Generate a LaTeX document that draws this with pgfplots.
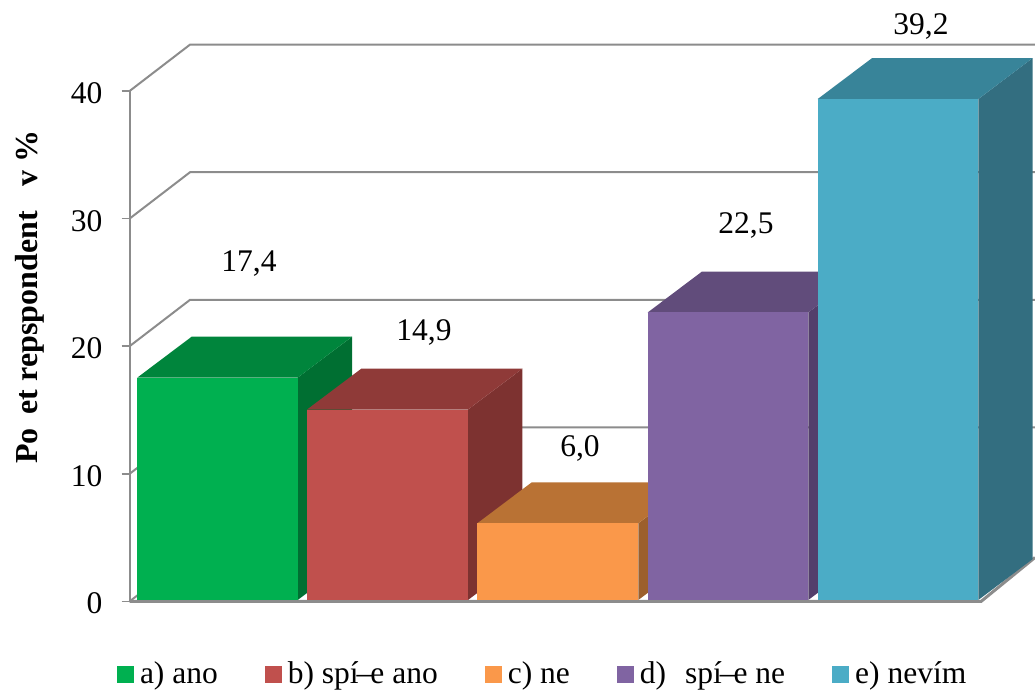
\documentclass[border=0pt]{standalone}
\usepackage{pgfplots}
\pgfplotsset{compat=1.18}
\usepackage{fontspec}
\setmainfont{Liberation Serif}

\definecolor{wallgray}{HTML}{8C8C8C}
\definecolor{aFront}{HTML}{00B050}\definecolor{aTop}{HTML}{00853C}\definecolor{aSide}{HTML}{006F32}
\definecolor{bFront}{HTML}{C0504D}\definecolor{bTop}{HTML}{8F3A38}\definecolor{bSide}{HTML}{7D3230}
\definecolor{cFront}{HTML}{FA984A}\definecolor{cTop}{HTML}{B97234}\definecolor{cSide}{HTML}{9C5F2C}
\definecolor{dFront}{HTML}{8064A2}\definecolor{dTop}{HTML}{614C7B}\definecolor{dSide}{HTML}{533F6B}
\definecolor{eFront}{HTML}{4BACC6}\definecolor{eTop}{HTML}{388499}\definecolor{eSide}{HTML}{336E80}

\newcommand{\chartfont}{\fontsize{31.5}{36}\selectfont}
\newcommand{\tightdash}{\kern-2pt–\kern-2pt}
% One box face; depth of a bar is 54.3 along x and 3.2 along the value axis.
\pgfplotsset{face/.style={fill=#1,draw=none,forget plot}}
% left edge, right edge, value, colour stem
\newcommand{\boxbar}[4]{%
  \pgfmathsetmacro{\xb}{#2+54.3}%
  \pgfmathsetmacro{\xc}{#1+54.3}%
  \pgfmathsetmacro{\vb}{#3+3.2}%
  \edef\temp{\noexpand\addplot[face=#4Side] coordinates {(#2,0) (\xb,3.2) (\xb,\vb) (#2,#3)} --cycle;
    \noexpand\addplot[face=#4Top] coordinates {(#1,#3) (#2,#3) (\xb,\vb) (\xc,\vb)} --cycle;
    \noexpand\addplot[face=#4Front] coordinates {(#1,0) (#2,0) (#2,#3) (#1,#3)} --cycle;}%
  \temp}
% Square legend key, with the gap before its text
\newcommand{\legendkey}[1]{\addlegendimage{legend image code/.code={%
  \fill[#1,draw=none] (0pt,1pt) rectangle (17pt,18pt);\path[draw=none] (17pt,0) -- (23pt,0);}}}

\begin{document}
\begin{tikzpicture}[x=1pt,y=1pt]
\useasboundingbox (0,0) rectangle (1035,695);

% Walls, gridlines and the value axis
\begin{axis}[
  at={(129.5pt,0pt)},anchor=south west,
  scale only axis,width=905.5pt,height=695pt,
  xmin=129.5,xmax=1035,ymin=-7.328,ymax=47.139,
  clip=false,
  axis x line=none,axis y line*=left,
  axis line style={draw=none},
  ytick={0,10,20,30,40},
  tick align=outside,
  major tick length=8pt,
  tick style={draw=wallgray,line width=1.6pt},
  /pgf/number format/assume math mode=true,
  yticklabel style={font=\chartfont,text=black,inner sep=0pt,xshift=-19pt,yshift=-2pt},
]
\addplot[wallgray,line width=2pt,forget plot] coordinates {(129.5,0) (129.5,40)};
\addplot[wallgray,line width=2pt,forget plot] coordinates {(129.5,10) (190,13.64) (1035,13.64)};
\addplot[wallgray,line width=2pt,forget plot] coordinates {(129.5,20) (190,23.64) (1035,23.64)};
\addplot[wallgray,line width=2pt,forget plot] coordinates {(129.5,30) (190,33.64) (1035,33.64)};
\addplot[wallgray,line width=2pt,forget plot] coordinates {(129.5,40) (190,43.64) (1035,43.64)};
\addplot[wallgray,line width=2pt,forget plot] coordinates {(129.5,0) (190,3.64)};
\addplot[wallgray,line width=3pt,forget plot] coordinates {(129.5,0) (981,0) (1035,3.45)};
\end{axis}

% Bars, value labels and legend
\begin{axis}[
  at={(0pt,0pt)},anchor=south west,
  scale only axis,width=1035pt,height=695pt,
  xmin=0,xmax=1035,ymin=-7.433,ymax=46.948,
  hide axis,
  legend columns=5,
  legend style={draw=none,fill=none,font=\chartfont,inner sep=0pt,outer sep=0pt,
    at={(axis cs:117,-5.75)},anchor=west,
    /tikz/every even column/.append style={column sep=47pt},
    nodes={inner sep=0pt,anchor=base west}},
  legend cell align=left,
]
\boxbar{137.3}{297.7}{17.4}{a}
\boxbar{307.0}{468.0}{14.9}{b}
\boxbar{477.3}{638.3}{6.0}{c}
\boxbar{647.7}{808.3}{22.5}{d}
\boxbar{817.7}{978.3}{39.2}{e}

\legendkey{aFront}\addlegendentry{a) ano}
\legendkey{bFront}\addlegendentry{b) spí\tightdash e ano}
\legendkey{cFront}\addlegendentry{c) ne}
\legendkey{dFront}\addlegendentry{d)\hspace{19pt}spí\tightdash e ne\hspace{4pt}}
\legendkey{eFront}\addlegendentry{e) nevím}

\node[font=\chartfont,anchor=base] at (axis cs:249,25.67) {17,4};
\node[font=\chartfont,anchor=base] at (axis cs:424,20.34) {14,9};
\node[font=\chartfont,anchor=base] at (axis cs:580,11.19) {6,0};
\node[font=\chartfont,anchor=base] at (axis cs:746,28.64) {22,5};
\node[font=\chartfont,anchor=base] at (axis cs:921,44.21) {39,2};

\node[font=\fontsize{32}{36}\selectfont\bfseries,rotate=90,anchor=base] at (axis cs:37.5,23.7)
  {Po\hspace{14pt}et repspondent\hspace{25pt}v \%};
\end{axis}
\end{tikzpicture}
\end{document}
